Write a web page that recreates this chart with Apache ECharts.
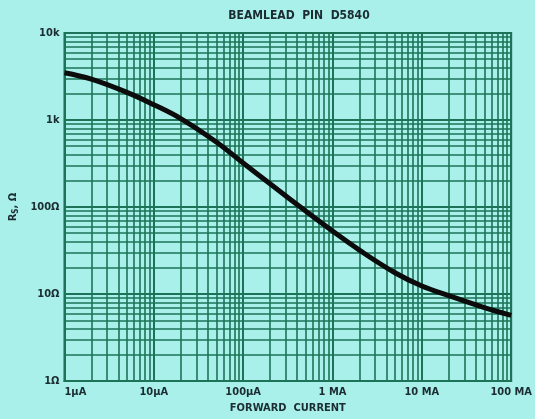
<!DOCTYPE html>
<html>
<head>
<meta charset="utf-8">
<script src="https://cdn.jsdelivr.net/npm/echarts@6/dist/echarts.min.js"></script>
<style>
html,body{margin:0;padding:0;background:#a8f0e9;}
#chart{width:535px;height:419px;}
</style>
</head>
<body>
<div id="chart"></div>
<script>
// forward current (µA) and series resistance (ohm)
var currentUA = [1, 2, 5, 10, 20, 50, 100, 200, 500, 1000, 2000, 5000, 10000, 20000, 50000, 100000];
var rsOhm = [3500, 2950, 2080, 1500, 1040, 560, 320, 185, 90, 53, 32, 17.6, 12.4, 9.6, 7.0, 5.7];
var xTickLabels = ['1\u00b5A', '10\u00b5A', '100\u00b5A', '1 MA', '10 MA', '100 MA'];
var yTickLabels = ['1\u03a9', '10\u03a9', '100\u03a9', '1k', '10k'];
// log paper minor lines
var xDecades = [1, 10, 100, 1000, 10000];
var yDecades = [1, 10, 100, 1000];
var minorSteps = [2, 3, 4, 5, 6, 7, 8, 9];

var gridColor = '#1d7357';
var textColor = '#1b2c33';
var font = '"Liberation Sans Narrow", "DejaVu Sans Condensed", sans-serif';

var curve = currentUA.map(function (c, i) { return [c, rsOhm[i]]; });

var minorLines = [];
xDecades.forEach(function (d) {
    minorSteps.forEach(function (m) { minorLines.push({ xAxis: d * m }); });
});
yDecades.forEach(function (d) {
    minorSteps.forEach(function (m) { minorLines.push({ yAxis: d * m }); });
});

var chart = echarts.init(document.getElementById('chart'));
chart.setOption({
    animation: false,
    backgroundColor: '#a8f0e9',
    title: {
        text: 'BEAMLEAD  PIN  D5840',
        left: 294,
        top: 5,
        textAlign: 'center',
        textStyle: { fontFamily: font, fontSize: 12, fontWeight: 'bold', color: textColor }
    },
    grid: {
        left: 63, right: 22, top: 33, bottom: 31,
        show: true, borderColor: gridColor, borderWidth: 2
    },
    xAxis: {
        type: 'log',
        logBase: 10,
        min: 1,
        max: 100000,
        name: 'FORWARD  CURRENT',
        nameLocation: 'middle',
        nameGap: 19,
        nameTextStyle: { fontFamily: font, fontSize: 11, fontWeight: 'bold', color: textColor },
        axisLine: { show: true, lineStyle: { color: gridColor, width: 2 } },
        axisTick: { show: false },
        splitLine: { show: true, lineStyle: { color: gridColor, width: 2 } },
        axisLabel: {
            margin: 6,
            fontFamily: font, fontSize: 11, fontWeight: 'bold', color: textColor,
            alignMinLabel: 'left',
            formatter: function (v) { return xTickLabels[Math.round(Math.log10(v))]; }
        }
    },
    yAxis: {
        type: 'log',
        logBase: 10,
        min: 1,
        max: 10000,
        name: '{a|R}{s|S}{a|, \u03a9}',
        nameLocation: 'middle',
        nameRotate: 90,
        nameGap: 34,
        nameTextStyle: {
            rich: {
                a: { fontFamily: font, fontSize: 11, fontWeight: 'bold', color: textColor },
                s: { fontFamily: font, fontSize: 8, fontWeight: 'bold', color: textColor, verticalAlign: 'bottom', padding: [4, 0, 0, 0] }
            }
        },
        axisLine: { show: true, lineStyle: { color: gridColor, width: 2 } },
        axisTick: { show: false },
        splitLine: { show: true, lineStyle: { color: gridColor, width: 2 } },
        axisLabel: {
            margin: 5,
            fontFamily: font, fontSize: 11, fontWeight: 'bold', color: textColor,
            formatter: function (v) { return yTickLabels[Math.round(Math.log10(v))]; }
        }
    },
    series: [
        {
            name: 'grid',
            type: 'line',
            data: [],
            z: 1,
            silent: true,
            markLine: {
                silent: true,
                symbol: ['none', 'none'],
                label: { show: false },
                lineStyle: { color: gridColor, width: 1.6, type: 'solid' },
                emphasis: { disabled: true },
                data: minorLines
            }
        },
        {
            name: 'Rs',
            type: 'line',
            z: 5,
            data: curve,
            smooth: 0.4,
            showSymbol: false,
            lineStyle: { color: '#0c0c0c', width: 5 }
        }
    ]
});
</script>
</body>
</html>
